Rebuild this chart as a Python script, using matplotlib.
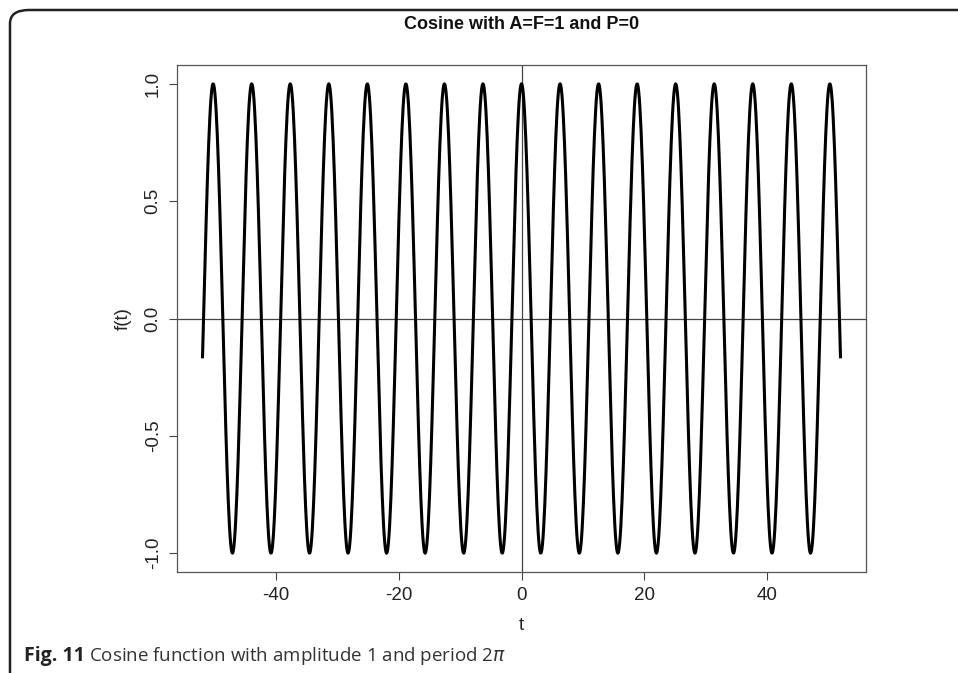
import matplotlib.pyplot as plt
from matplotlib.patches import FancyBboxPatch
import numpy as np

# Function parameters (from the title: A=F=1, P=0) and sampled range
amplitude = 1.0
frequency = 1.0
phase = 0.0
t_start, t_end, t_step = -52.0, 52.0, 0.1

x_ticks = [-40, -20, 0, 20, 40]
y_ticks = [-1.0, -0.5, 0.0, 0.5, 1.0]
y_tick_labels = ["-1.0", "-0.5", "0.0", "0.5", "1.0"]

t = np.arange(t_start, t_end + t_step / 2, t_step)
f = amplitude * np.cos(frequency * t + phase)

plt.rcParams['font.family'] = ['Liberation Sans', 'DejaVu Sans']
plt.rcParams['axes.unicode_minus'] = False

fig = plt.figure(figsize=(9.58, 6.73), dpi=100)

# rounded figure frame (top and left edges visible)
frame = FancyBboxPatch((10 / 958, -0.1), 1.2, (673 - 10) / 673 + 0.1,
                       boxstyle="round,pad=0,rounding_size=0.02",
                       transform=fig.transFigure, fill=False,
                       edgecolor='#222222', linewidth=1.8, zorder=0)
fig.patches.append(frame)

ax = fig.add_axes([177 / 958, 101 / 673, 689 / 958, 507 / 673])
ax.plot(t, f, color='black', linewidth=2.2, zorder=3)
ax.axhline(0, color='#444444', linewidth=0.9, zorder=2)
ax.axvline(0, color='#444444', linewidth=0.9, zorder=2)

span = t_end - t_start
ax.set_xlim(t_start - 0.04 * span, t_end + 0.04 * span)
ax.set_ylim(-1.08, 1.08)

ax.set_xticks(x_ticks)
ax.set_yticks(y_ticks)
ax.set_yticklabels(y_tick_labels, rotation=90, va='center')
ax.tick_params(direction='out', length=6, width=0.8, colors='#444444',
               labelcolor='#222222', labelsize=13.5, pad=5)
for sp in ax.spines.values():
    sp.set_color('#555555')
    sp.set_linewidth(0.9)

ax.set_xlabel('t', fontsize=13.5, color='#222222', labelpad=9)
ax.set_ylabel('f(t)', fontsize=13.5, color='#222222', labelpad=9)
ax.set_title('Cosine with A=F=1 and P=0', fontsize=13, fontweight='bold',
             color='#111111', pad=26)

fig.text(24 / 958, 1 - 656 / 673, 'Fig. 11', fontsize=14, fontweight='bold',
         family=['Open Sans', 'DejaVu Sans'], color='#222222', va='center')
fig.text(89 / 958, 1 - 656 / 673,
         'Cosine function with amplitude 1 and period 2$\\mathit{\\pi}$',
         fontsize=13.5, family=['Open Sans', 'DejaVu Sans'], color='#333333',
         va='center')

fig.savefig('out.png', dpi=100)
